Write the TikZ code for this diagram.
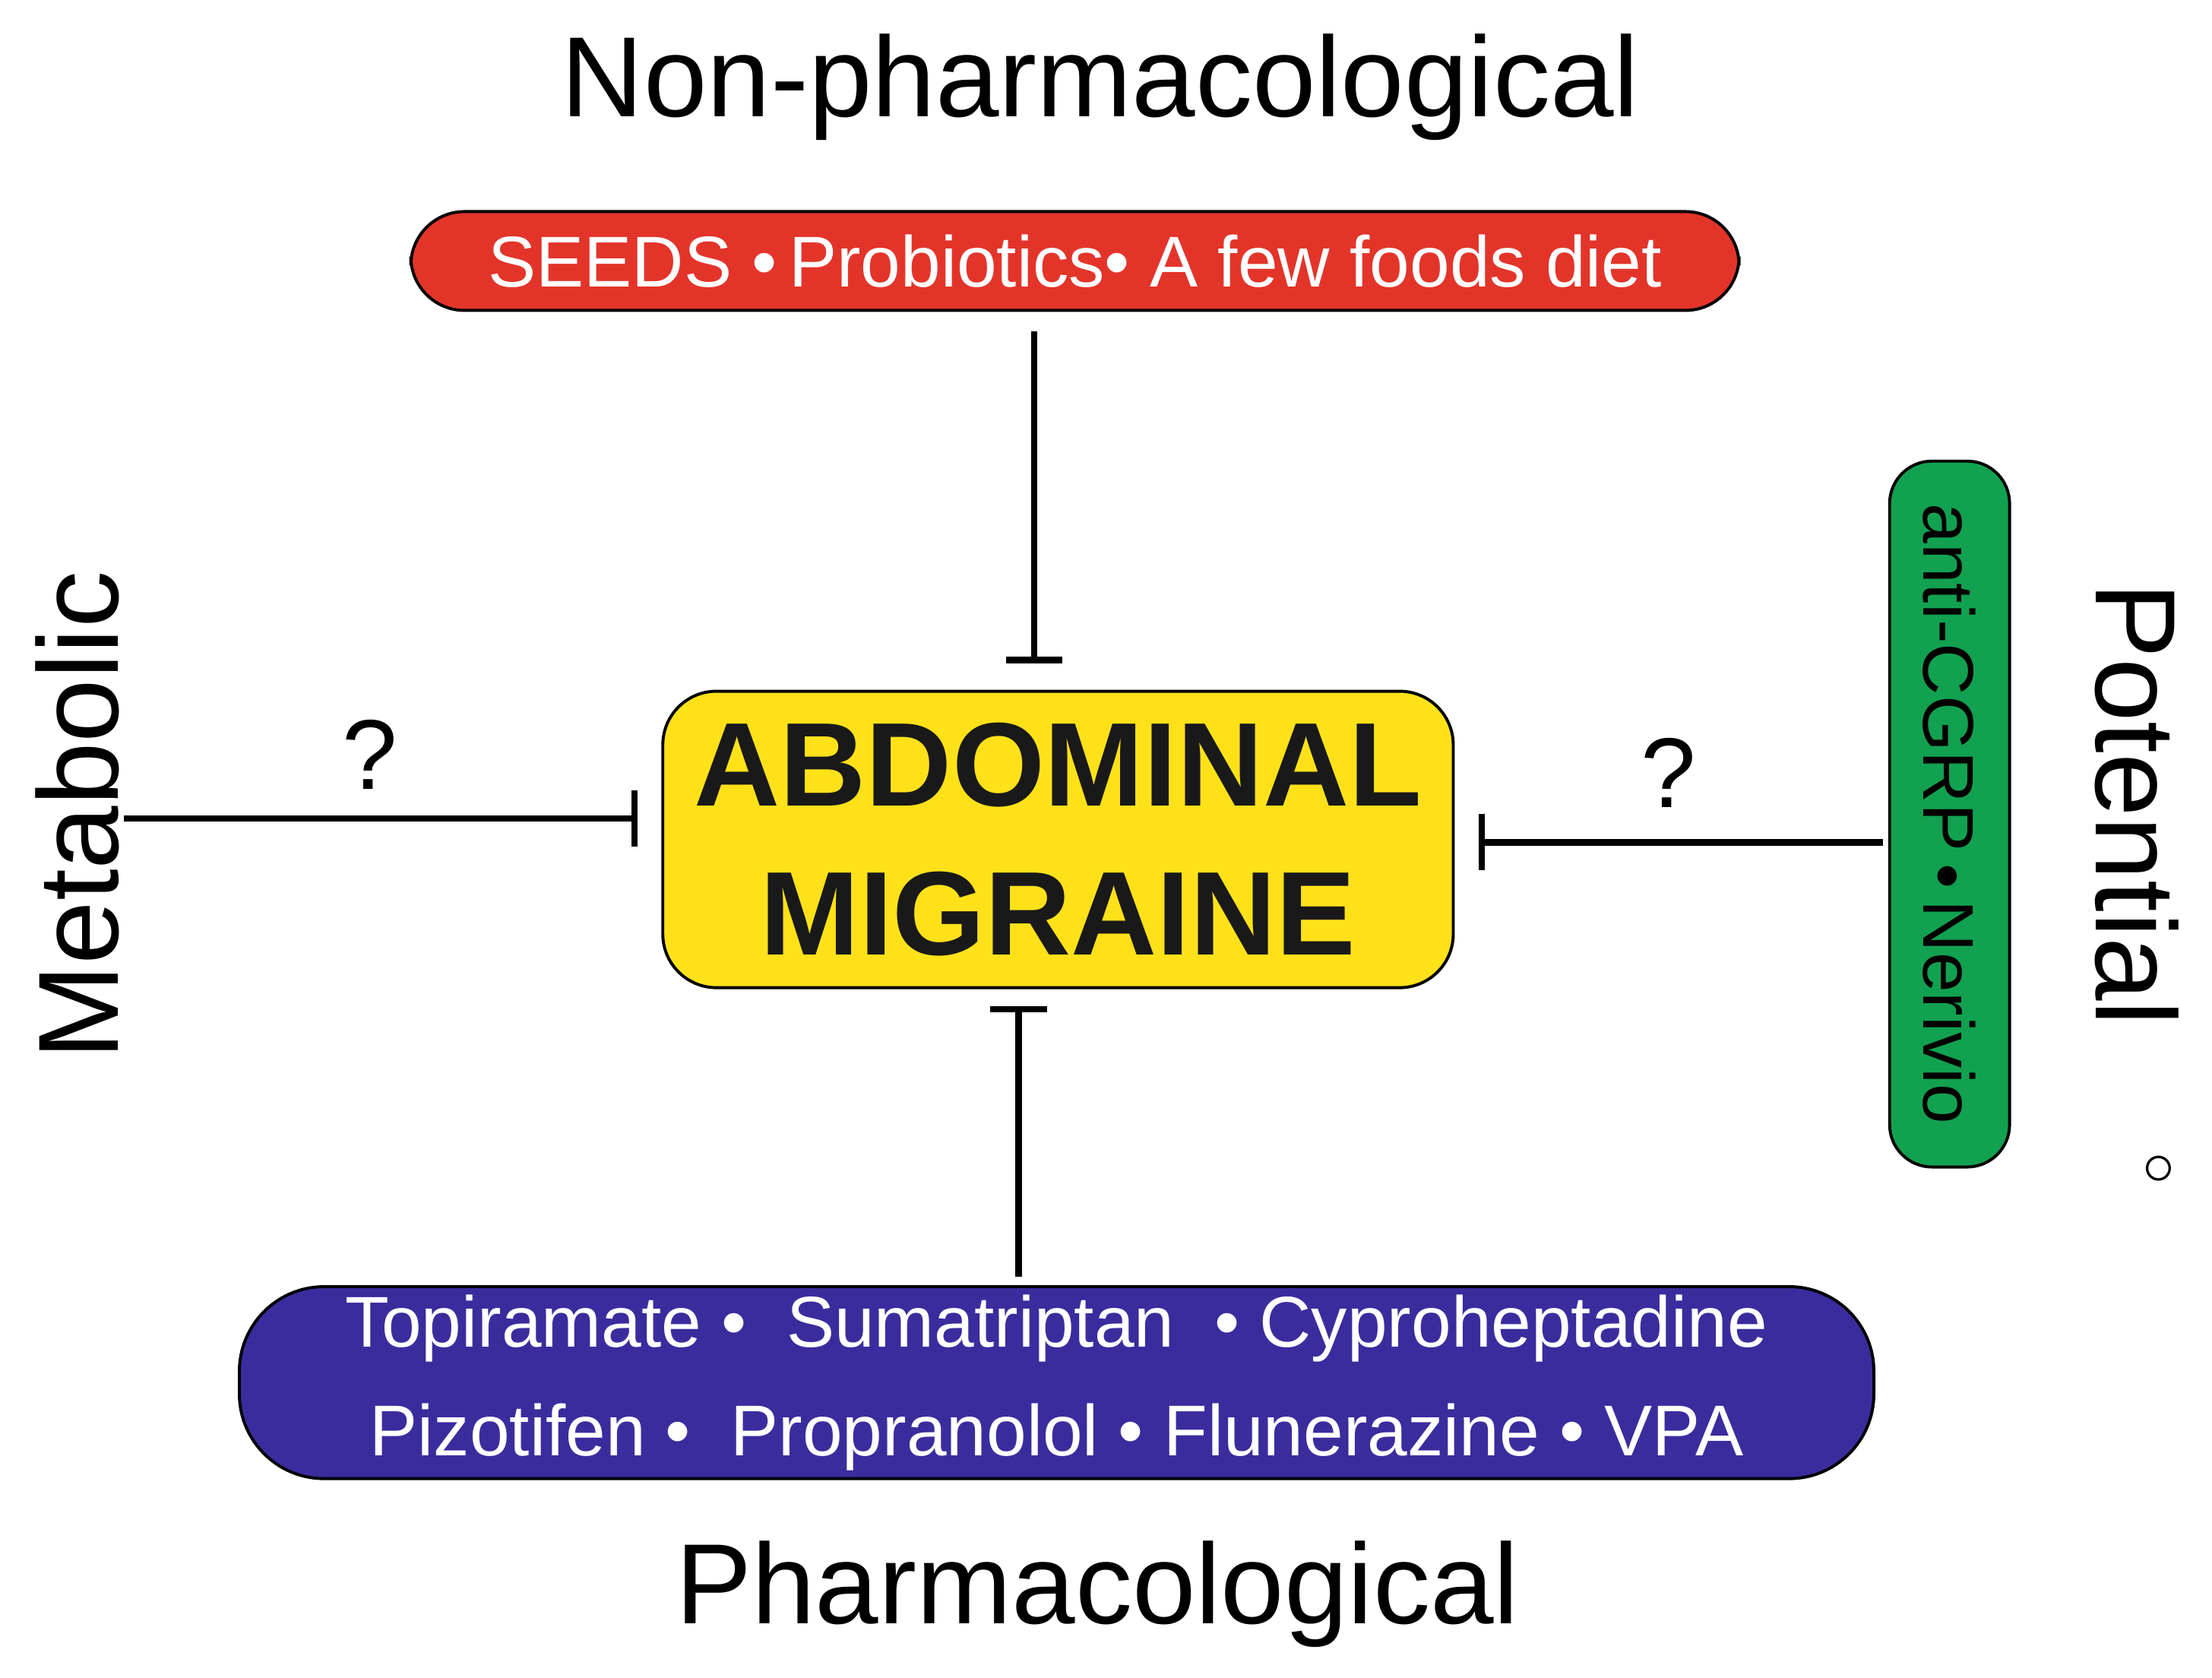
\documentclass[tikz,border=0pt]{standalone}
\usepackage{fontspec}
\setmainfont{Liberation Sans}
\usetikzlibrary{arrows.meta}
\definecolor{redb}{HTML}{E3342A}
\definecolor{yelb}{HTML}{FFE11A}
\definecolor{greb}{HTML}{12A150}
\definecolor{blub}{HTML}{3B2C9E}
\begin{document}
\begin{tikzpicture}[x=0.01cm,y=-0.01cm,
  box/.style={draw=black,line width=0.6pt,rounded corners=0.38cm,inner sep=0pt},
  inh/.style={line width=1.3pt,-{Bar[width=0.4cm]}},
  big/.style={font=\fontsize{23}{26}\selectfont},
  lbl/.style={text=white,font=\fontsize{14.5}{22}\selectfont}]
\useasboundingbox (0,0) rectangle (1568,1189);
\node[big] (np) at (780,62) {Non-pharmacological};
\node[box,fill=redb,minimum width=9.41cm,minimum height=0.70cm] (red) at (762,185) {};
\node[lbl] at (red) {SEEDS \textbullet\,Probiotics\textbullet\ A few foods diet};
\node[box,fill=yelb,minimum width=5.6cm,minimum height=2.1cm] (am) at (750,595) {};
\node[font=\fontsize{24}{30}\selectfont\bfseries,align=center,text=black!90] at (am) {ABDOMINAL\\MIGRAINE};
\coordinate (t1) at (733,235); \coordinate (t2) at (733,470);
\draw[inh] (t1) -- (t2);
\coordinate (l1) at (88,580); \coordinate (l2) at (452,580);
\draw[inh] (l1) -- (l2);
\node[font=\fontsize{20}{24}\selectfont] (q1) at (262,535) {?};
\node[big,rotate=90] (met) at (55,578) {Metabolic};
\node[box,fill=greb,minimum width=0.85cm,minimum height=5.0cm,rounded corners=0.3cm] (gr) at (1382,577) {};
\node[lbl,text=black,rotate=-90] at (gr) {anti-CGRP\,\textbullet\,Nerivio};
\coordinate (r1) at (1335,597); \coordinate (r2) at (1048,597);
\draw[inh] (r1) -- (r2);
\node[font=\fontsize{20}{24}\selectfont] (q2) at (1183,548) {?};
\node[big,rotate=-90] (pot) at (1515,570) {Potential};
\node[draw,circle,inner sep=0pt,minimum size=0.16cm,line width=0.5pt] (oc) at (1530,828) {};
\node[box,fill=blub,minimum width=11.58cm,minimum height=1.36cm,rounded corners=0.6cm] (bl) at (749,980) {};
\node[lbl,align=center] at (bl) {Topiramate \textbullet\ \ Sumatriptan \ \textbullet\ Cyproheptadine\\Pizotifen \textbullet\ \ Propranolol \textbullet\ Flunerazine \textbullet\ VPA};
\coordinate (b1) at (722,905); \coordinate (b2) at (722,713);
\draw[inh] (b1) -- (b2);
\node[big] (ph) at (778,1130) {Pharmacological};
\end{tikzpicture}
\end{document}
